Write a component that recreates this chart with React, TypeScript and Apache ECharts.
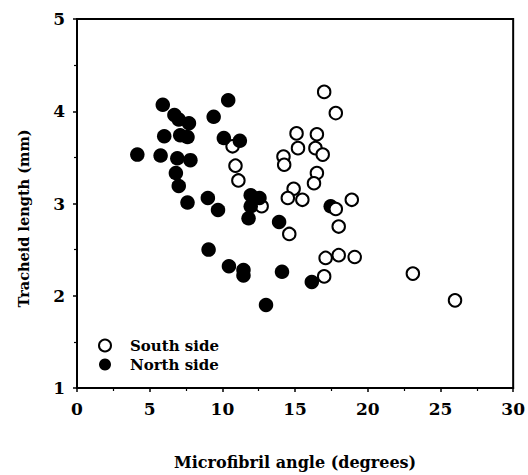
import React, { useEffect, useRef } from "react";
import * as echarts from "echarts";

// South side (open circles): microfibril angle (degrees), tracheid length (mm)
const southAngle = [17.0, 17.8, 15.1, 16.5, 15.2, 16.4, 16.9, 14.2, 14.25, 10.7, 10.9, 11.1, 16.5, 16.3, 14.9, 14.5, 15.5, 12.7, 17.8, 18.9, 18.0, 14.6, 17.1, 18.0, 19.1, 17.0, 23.1, 26.0];
const southLength = [4.21, 3.98, 3.76, 3.75, 3.60, 3.60, 3.53, 3.51, 3.42, 3.62, 3.41, 3.25, 3.33, 3.22, 3.16, 3.06, 3.04, 2.97, 2.94, 3.04, 2.75, 2.67, 2.41, 2.44, 2.42, 2.21, 2.24, 1.95];

// North side (filled circles)
const northAngle = [5.9, 6.7, 7.0, 7.7, 9.4, 10.4, 6.0, 7.1, 7.6, 10.1, 11.2, 4.15, 5.75, 6.9, 7.8, 6.8, 7.0, 7.6, 9.0, 9.7, 11.95, 12.55, 11.95, 11.8, 13.9, 9.05, 10.45, 11.45, 11.45, 14.1, 16.15, 13.0];
const northLength = [4.07, 3.96, 3.91, 3.87, 3.94, 4.12, 3.73, 3.74, 3.72, 3.71, 3.68, 3.53, 3.52, 3.49, 3.47, 3.33, 3.19, 3.01, 3.06, 2.93, 3.09, 3.06, 2.97, 2.84, 2.80, 2.50, 2.32, 2.28, 2.22, 2.26, 2.15, 1.90];
// North-side point partly hidden behind a south-side point
const northBehindAngle = [17.45];
const northBehindLength = [2.97];

const xTicks = { min: 0, max: 30, interval: 5 };
const yTicks = { min: 1, max: 5, interval: 1 };

const pairs = (xs: number[], ys: number[]) => xs.map((x, i) => [x, ys[i]]);

const FONT = "DejaVu Serif";

export default function App() {
  const ref = useRef<HTMLDivElement>(null);
  useEffect(() => {
    if (!ref.current) return;
    const chart = echarts.init(ref.current, undefined, { renderer: "svg" });
    const openStyle = { color: "#ffffff", borderColor: "#000000", borderWidth: 2, opacity: 1 };
    const filledStyle = { color: "#000000", opacity: 1 };
    chart.setOption({
      animation: false,
      backgroundColor: "#ffffff",
      textStyle: { fontFamily: FONT, color: "#000" },
      grid: {
        left: 77,
        right: 14,
        top: 19,
        bottom: 87,
        show: true,
        borderColor: "#000",
        borderWidth: 2,
        backgroundColor: "transparent",
      },
      legend: {
        data: ["South side", "North side"],
        orient: "vertical",
        left: 93,
        top: 333,
        itemWidth: 40,
        itemHeight: 12,
        itemGap: 4,
        textStyle: { fontFamily: FONT, fontWeight: "bold", fontSize: 15, color: "#000" },
      },
      xAxis: {
        type: "value",
        min: xTicks.min,
        max: xTicks.max,
        interval: xTicks.interval,
        name: "Microfibril angle (degrees)",
        nameLocation: "middle",
        nameGap: 66,
        nameTextStyle: { fontFamily: FONT, fontWeight: "bold", fontSize: 16, color: "#000" },
        axisLine: { lineStyle: { color: "#000", width: 2 } },
        axisTick: { show: true, length: 4, lineStyle: { color: "#000", width: 1.5 } },
        minorTick: { show: true, splitNumber: 2, length: 3, lineStyle: { color: "#000", width: 1.2 } },
        axisLabel: { fontFamily: FONT, fontWeight: "bold", fontSize: 17, color: "#000", margin: 12 },
        splitLine: { show: false },
      },
      yAxis: {
        type: "value",
        min: yTicks.min,
        max: yTicks.max,
        interval: yTicks.interval,
        name: "Tracheid length (mm)",
        nameLocation: "middle",
        nameGap: 46,
        nameTextStyle: {
          fontFamily: FONT,
          fontWeight: "bold",
          fontSize: 14.5,
          color: "#000",
          padding: [0, 30, 0, 0],
        },
        axisLine: { lineStyle: { color: "#000", width: 2 } },
        axisTick: { show: true, length: 4, lineStyle: { color: "#000", width: 1.5 } },
        minorTick: { show: true, splitNumber: 2, length: 3, lineStyle: { color: "#000", width: 1.2 } },
        axisLabel: { fontFamily: FONT, fontWeight: "bold", fontSize: 17, color: "#000", margin: 12 },
        splitLine: { show: false },
      },
      series: [
        {
          type: "scatter",
          data: pairs(northBehindAngle, northBehindLength),
          symbol: "circle",
          symbolSize: 14.5,
          itemStyle: filledStyle,
          z: 2,
        },
        {
          name: "South side",
          type: "scatter",
          data: pairs(southAngle, southLength),
          symbol: "circle",
          symbolSize: 12.5,
          itemStyle: openStyle,
          z: 3,
        },
        {
          name: "North side",
          type: "scatter",
          data: pairs(northAngle, northLength),
          symbol: "circle",
          symbolSize: 14.5,
          itemStyle: filledStyle,
          z: 4,
        },
      ],
    });
    return () => chart.dispose();
  }, []);
  return (
    <div
      ref={ref}
      style={{ position: "fixed", left: 0, top: 0, width: 528, height: 475, background: "#fff" }}
    />
  );
}
